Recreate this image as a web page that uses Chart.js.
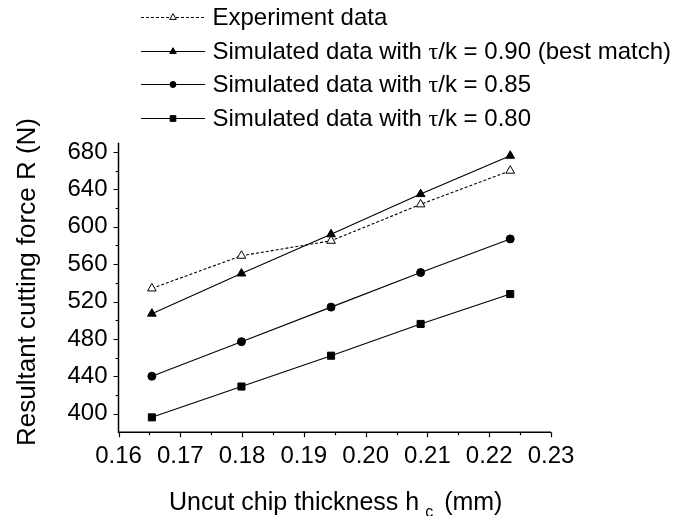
<!DOCTYPE html>
<html><head><meta charset="utf-8">
<script src="https://cdn.jsdelivr.net/npm/chart.js@4.4.1/dist/chart.umd.min.js"></script>
<style>html,body{margin:0;padding:0;background:#fff;}canvas{display:block;}</style>
</head><body>
<canvas id="c" width="675" height="516"></canvas>
<script>
// ---- data ----
const hc = [0.1654, 0.1799, 0.1944, 0.2089, 0.2234];
const experiment = [534, 569, 585, 624, 660];
const sim090 = [507, 550, 592, 635, 676];
const sim085 = [440, 477, 514, 551, 587];
const sim080 = [396, 429, 462, 496, 528];
const seriesLabels = [
  'Experiment data',
  'Simulated data with τ/k = 0.90 (best match)',
  'Simulated data with τ/k = 0.85',
  'Simulated data with τ/k = 0.80'
];
const xTickLabels = ['0.16','0.17','0.18','0.19','0.20','0.21','0.22','0.23'];
const yTickLabels = ['400','440','480','520','560','600','640','680'];
const xTitleParts = ['Uncut chip thickness h', 'c', ' (mm)'];
const yTitle = 'Resultant cutting force R (N)';

const SANS = '"Liberation Sans", Arial, sans-serif';
const SERIF = '"Liberation Serif", "Times New Roman", serif';

function pts(ys){ return hc.map((x,i)=>({x:x, y:ys[i]})); }

const styles = [
  {data: experiment, dash:[3,2], pointStyle:'triangle', r:5, fill:'#ffffff', lr:3.8},
  {data: sim090, dash:[], pointStyle:'triangle', r:5, fill:'#000000', lr:3.8},
  {data: sim085, dash:[], pointStyle:'circle', r:4, fill:'#000000', lr:3},
  {data: sim080, dash:[], pointStyle:'rect', r:5, fill:'#000000', lr:3.8}
];

const datasets = styles.map((s,i)=>({
  label: seriesLabels[i],
  data: pts(s.data),
  borderColor:'#000', borderWidth:1.1, borderDash:s.dash,
  pointStyle:s.pointStyle, pointRadius:s.r, pointHoverRadius:s.r,
  pointBackgroundColor:s.fill, pointBorderColor:'#000', pointBorderWidth:1,
  tension:0, fill:false, clip:false
}));

const decor = {
  id:'decor',
  afterDraw(chart){
    const ctx = chart.ctx, a = chart.chartArea;
    const xs = chart.scales.x, ys = chart.scales.y;
    ctx.save();
    ctx.strokeStyle = '#000'; ctx.fillStyle = '#000';
    // axes lines
    ctx.lineWidth = 1.5;
    ctx.beginPath();
    ctx.moveTo(a.left, a.top); ctx.lineTo(a.left, a.bottom); ctx.lineTo(a.right, a.bottom);
    ctx.stroke();
    // tick marks
    ctx.lineWidth = 1.2;
    ctx.beginPath();
    for (let v = 400; v <= 680; v += 20) {
      const y = Math.round(ys.getPixelForValue(v)) + 0.5;
      const len = (v % 40 === 0) ? 5 : 3;
      ctx.moveTo(a.left, y); ctx.lineTo(a.left - len, y);
    }
    for (let k = 0; k <= 14; k++) {
      const v = 0.16 + k * 0.005;
      const x = Math.round(xs.getPixelForValue(v)) + 0.5;
      const len = (k % 2 === 0) ? 5 : 3;
      ctx.moveTo(x, a.bottom); ctx.lineTo(x, a.bottom + len);
    }
    ctx.stroke();
    // y title
    ctx.save();
    ctx.font = '26px ' + SANS;
    ctx.textAlign = 'center'; ctx.textBaseline = 'alphabetic';
    ctx.translate(35, 282);
    ctx.rotate(-Math.PI/2);
    ctx.fillText(yTitle, 0, 0);
    ctx.restore();
    // x title with subscript
    const bigF = '25px ' + SANS, smallF = '16px ' + SANS;
    ctx.font = bigF; const w0 = ctx.measureText(xTitleParts[0]).width;
    const w2 = ctx.measureText(xTitleParts[2]).width;
    ctx.font = smallF; const w1 = ctx.measureText(xTitleParts[1]).width;
    const gap = 6;
    const total = w0 + gap + w1 + w2 + 4;
    let x0 = (a.left + a.right)/2 - total/2 + 1;
    const base = 510;
    ctx.textAlign = 'left'; ctx.textBaseline = 'alphabetic';
    ctx.font = bigF; ctx.fillText(xTitleParts[0], x0, base);
    ctx.font = smallF; ctx.fillText(xTitleParts[1], x0 + w0 + gap, base + 7);
    ctx.font = bigF; ctx.fillText(xTitleParts[2], x0 + w0 + gap + w1 + 4, base);
    // legend
    const rowsY = [17, 50.5, 84, 117.5];
    chart.data.datasets.forEach((ds, i) => {
      const y = Math.round(rowsY[i]) + 0.5;
      const st = styles[i];
      ctx.save();
      ctx.lineWidth = 1.1;
      ctx.setLineDash(st.dash);
      ctx.beginPath(); ctx.moveTo(141, y); ctx.lineTo(205, y); ctx.stroke();
      ctx.restore();
      const mx = 173, r = st.lr;
      ctx.save();
      ctx.fillStyle = st.fill; ctx.lineWidth = 1; ctx.setLineDash([]);
      ctx.beginPath();
      if (st.pointStyle === 'triangle') {
        ctx.moveTo(mx, y - r);
        ctx.lineTo(mx + r*0.866, y + r*0.5);
        ctx.lineTo(mx - r*0.866, y + r*0.5);
        ctx.closePath();
      } else if (st.pointStyle === 'circle') {
        ctx.arc(mx, y, r, 0, Math.PI*2);
      } else {
        ctx.rect(mx - r*0.75, y - r*0.75, r*1.5, r*1.5);
      }
      ctx.fill(); ctx.stroke();
      ctx.restore();
      // text, τ in serif
      let tx = 212.5;
      const parts = ds.label.split('τ');
      ctx.textBaseline = 'middle'; ctx.textAlign = 'left';
      parts.forEach((p, j) => {
        if (j > 0) {
          ctx.font = '24px ' + SERIF;
          ctx.fillText('τ', tx, y + 1);
          tx += ctx.measureText('τ').width;
        }
        ctx.font = '24px ' + SANS;
        ctx.fillText(p, tx, y + 1);
        tx += ctx.measureText(p).width;
      });
    });
    ctx.restore();
  }
};

new Chart(document.getElementById('c'), {
  type: 'line',
  data: { datasets },
  options: {
    responsive:false, animation:false, devicePixelRatio:1,
    layout:{ padding:{ top:142.7, left:0, right:124, bottom:0 } },
    plugins:{ legend:{display:false}, tooltip:{enabled:false}, title:{display:false} },
    scales:{
      x:{
        type:'linear', min:0.16, max:0.23,
        grid:{display:false, drawTicks:false}, border:{display:false},
        ticks:{ stepSize:0.01, padding:10, color:'#000', font:{family:SANS, size:24},
          maxRotation:0, autoSkip:false,
          callback:(v)=>{ const l = xTickLabels.find(t=>Math.abs(parseFloat(t)-v)<1e-6); return l===undefined?'':l; } },
        afterFit:(s)=>{ s.height = 516 - 432.3; }
      },
      y:{
        type:'linear', min:380, max:690,
        grid:{display:false, drawTicks:false}, border:{display:false},
        ticks:{ stepSize:40, includeBounds:false, padding:11, color:'#000', font:{family:SANS, size:24},
          callback:(v)=>{ const l = yTickLabels.find(t=>Math.abs(parseFloat(t)-v)<1e-6); return l===undefined?'':l; } },
        afterFit:(s)=>{ s.width = 118.5; }
      }
    }
  },
  plugins:[decor]
});
</script>
</body></html>
